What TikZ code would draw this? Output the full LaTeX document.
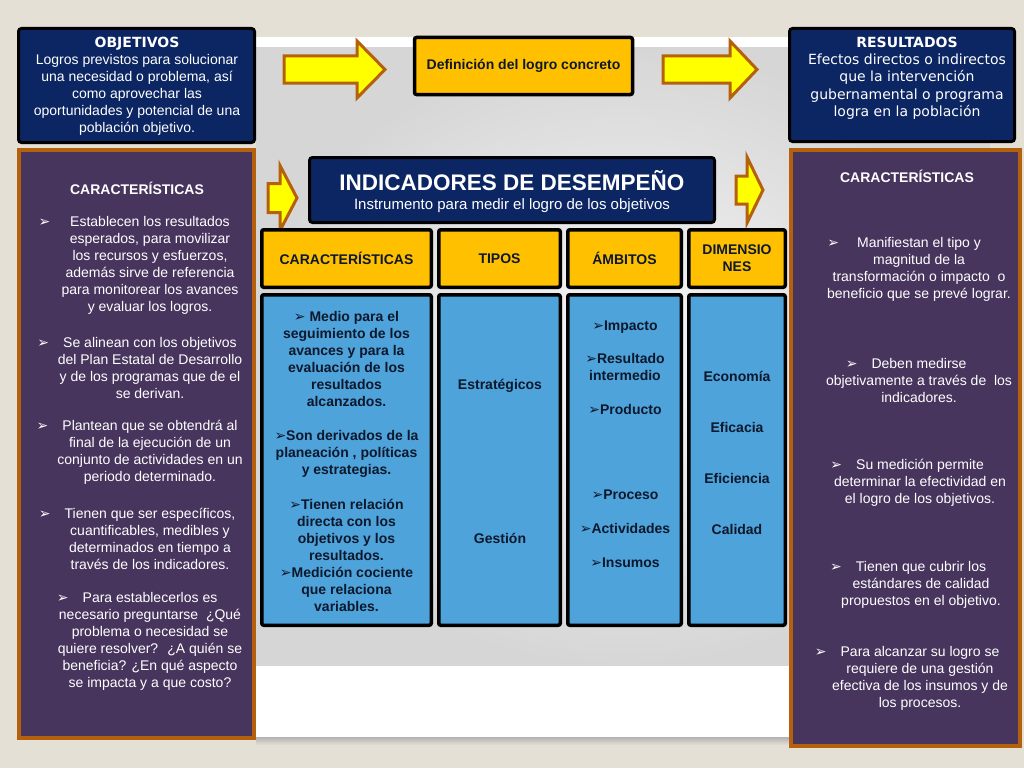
\documentclass[tikz,border=0pt]{standalone}
\usepackage{fontspec}
\setmainfont{Liberation Sans}
\newfontfamily\dejavu{DejaVu Sans}
\usepackage{tikz}

\definecolor{navy}{RGB}{12,37,99}
\definecolor{gold}{RGB}{255,192,0}
\definecolor{skyblue}{RGB}{77,163,218}
\definecolor{purp}{RGB}{72,53,94}
\definecolor{rust}{RGB}{181,96,12}
\definecolor{beige}{RGB}{228,224,214}
\definecolor{inktext}{RGB}{14,24,44}
\definecolor{arrowyel}{RGB}{255,255,0}

\newcommand\arr{{\dejavu\fontsize{14}{14}\selectfont ➢}}
\newcommand\bul[1][14pt]{\llap{\arr\hspace{#1}}}

\begin{document}
\begin{tikzpicture}[x=1pt,y=-1pt,
  navybox/.style={draw=black,line width=3pt,fill=navy,rounded corners=3pt},
  purplebox/.style={draw=rust,line width=4pt,fill=purp},
  headbox/.style={draw=black,line width=3.5pt,fill=gold,rounded corners=2pt},
  bodybox/.style={draw=black,line width=3.5pt,fill=skyblue,rounded corners=2pt},
  blockarr/.style={fill=arrowyel,draw=rust,line width=3pt,line join=miter},
  txt/.style={align=center,inner sep=0pt,font=\fontsize{14}{17}\selectfont},
  wtxt/.style={txt,text=white},
  btxt/.style={txt,text=inktext,font=\fontsize{14}{17}\selectfont\bfseries}]

% --- Slide background ---
\fill[beige] (0,0) rectangle (1024,768);
\useasboundingbox (0,0) rectangle (1024,768);
\fill[white] (256,37) rectangle (990,737);
\shade[inner color=gray!6,outer color=gray!32] (256,48) rectangle (990,665);
\shade[top color=gray!60,bottom color=beige] (256,737) rectangle (990,745);

% --- Block arrows: shaft start/head base/tip/mid/half shaft/half head ---
\foreach \xa/\xb/\xc/\ym/\hs/\hh in {284/357/385/69.5/13.5/28.5,
    663/730/757/69.5/13.5/28.5, 268/280/297/198/14.5/32.5, 736/747/763/190/14/33}
  \draw[blockarr] ({\xa},{\ym-\hs}) -- ({\xb},{\ym-\hs}) -- ({\xb},{\ym-\hh})
    -- ({\xc},{\ym}) -- ({\xb},{\ym+\hh}) -- ({\xb},{\ym+\hs})
    -- ({\xa},{\ym+\hs}) -- cycle;

% --- Top row ---
\node[navybox,minimum width=236pt,minimum height=114pt] (obj) at (136.5,85.5) {};
\node[wtxt] (objt) at (137,86)
  {{\dejavu\bfseries OBJETIVOS}\\Logros previstos para solucionar\\una necesidad o problema, así\\como aprovechar las\\oportunidades y potencial de una\\población objetivo.};
\node[headbox,btxt,minimum width=218pt,minimum height=57pt] (def) at (523.5,66)
  {Definición del logro concreto};
\node[navybox,minimum width=225pt,minimum height=113pt] (res) at (902,85) {};
\node[wtxt,font=\dejavu\fontsize{14}{17.3}\selectfont] (rest) at (907,78)
  {{\bfseries RESULTADOS}\\Efectos directos o indirectos\\que la intervención\\gubernamental o programa\\logra en la población};

% --- Side panels ---
\node[purplebox,minimum width=235pt,minimum height=588pt] (lcar) at (136.5,444) {};
\node[purplebox,minimum width=229pt,minimum height=596pt] (rcar) at (905.5,448) {};

\node[wtxt,font=\fontsize{14}{17}\selectfont\bfseries] (lhead) at (137,188) {CARACTERÍSTICAS};
\node[wtxt] (lp1) at (150,265)
  {\bul[20pt]Establecen los resultados\\esperados, para movilizar\\los recursos y esfuerzos,\\además sirve de referencia\\para monitorear los avances\\y evaluar los logros.};
\node[wtxt] (lp2) at (150,367.5)
  {\bul Se alinean con los objetivos\\del Plan Estatal de Desarrollo\\y de los programas que de el\\se derivan.};
\node[wtxt] (lp3) at (150,452.5)
  {\bul Plantean que se obtendrá al\\final de la ejecución de un\\conjunto de actividades en un\\periodo determinado.};
\node[wtxt] (lp4) at (150,538.5)
  {\bul Tienen que ser específicos,\\cuantificables, medibles y\\determinados en tiempo a\\través de los indicadores.};
\node[wtxt] (lp5) at (150,641)
  {\bul Para establecerlos es\\necesario preguntarse \ ¿Qué\\problema o necesidad se\\quiere resolver? \ ¿A quién se\\beneficia? ¿En qué aspecto\\se impacta y a que costo?};

\node[wtxt,font=\fontsize{14}{17}\selectfont\bfseries] (rhead) at (907,176) {CARACTERÍSTICAS};
\node[wtxt] (rp1) at (919,269.5)
  {\bul[18pt]Manifiestan el tipo y\\magnitud de la\\transformación o impacto \ o\\beneficio que se prevé lograr.};
\node[wtxt] (rp2) at (919,380)
  {\bul Deben medirse\\objetivamente a través de \ los\\indicadores.};
\node[wtxt] (rp3) at (920,483)
  {\bul Su medición permite\\determinar la efectividad en\\el logro de los objetivos.};
\node[wtxt] (rp4) at (921,585)
  {\bul Tienen que cubrir los\\estándares de calidad\\propuestos en el objetivo.};
\node[wtxt] (rp5) at (920,678.5)
  {\bul Para alcanzar su logro se\\requiere de una gestión\\efectiva de los insumos y de\\los procesos.};

% --- Indicadores de desempeño ---
\node[navybox,minimum width=405pt,minimum height=65pt] (ind) at (512,190) {};
\node[wtxt,font=\fontsize{22.5}{26}\selectfont\bfseries] (indt) at (512,181) {INDICADORES DE DESEMPEÑO};
\node[wtxt,font=\fontsize{15}{17}\selectfont] (inds) at (512,206) {Instrumento para medir el logro de los objetivos};

\foreach \n/\xl/\xr/\lab in {car/260/433/CARACTERÍSTICAS, tip/437/562/TIPOS,
    amb/566/683/ÁMBITOS, dim/687/787/{DIMENSIO\\NES}} {
  \node[headbox,btxt,minimum width={\xr-\xl-3.5},minimum height=57.5pt]
    (h\n) at ({(\xl+\xr)/2},258.5) {\lab};
  \node[bodybox,minimum width={\xr-\xl-3.5},minimum height=330.5pt]
    (b\n) at ({(\xl+\xr)/2},460) {};
}

\node[btxt] (tcar) at (346.5,461)
  {\arr\ Medio para el\\seguimiento de los\\avances y para la\\evaluación de los\\resultados\\alcanzados.\\[17pt]\arr Son derivados de la\\planeación , políticas\\y estrategias.\\[18pt]\arr Tienen relación\\directa con los\\objetivos y los\\resultados.\\\arr Medición cociente\\que relaciona\\variables.};
\node[btxt] (ttip) at (500,461) {Estratégicos\\[137pt]Gestión};
\node[btxt] (tamb) at (625,444)
  {\arr Impacto\\[16pt]\arr Resultado\\intermedio\\[17pt]\arr Producto\\[68pt]\arr Proceso\\[17pt]\arr Actividades\\[17pt]\arr Insumos};
\node[btxt] (tdim) at (737,452.5) {Economía\\[34pt]Eficacia\\[34pt]Eficiencia\\[34pt]Calidad};

\end{tikzpicture}
\end{document}
